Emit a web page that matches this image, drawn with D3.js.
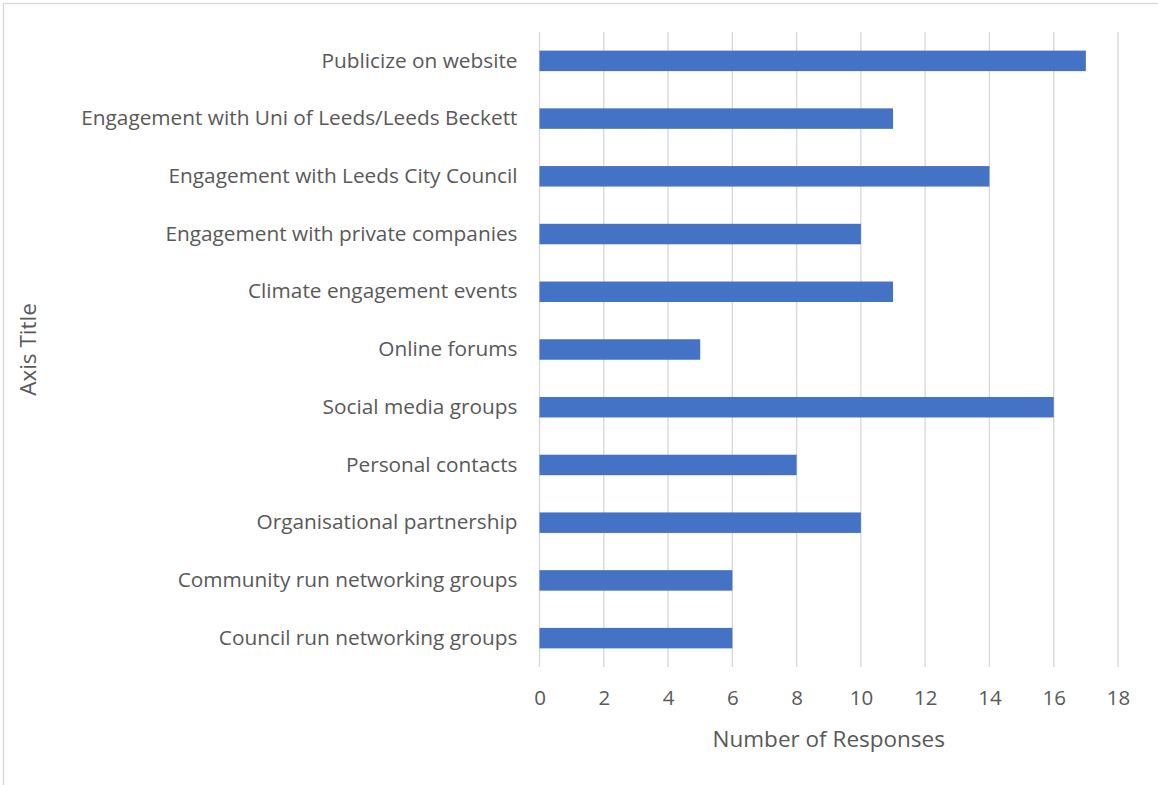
<!DOCTYPE html>
<html>
<head>
<meta charset="utf-8">
<script src="https://cdn.jsdelivr.net/npm/d3@7"></script>
<style>
  html, body { margin: 0; padding: 0; background: #fff; }
  svg { display: block; }
  text { font-family: "Open Sans", "Noto Sans", sans-serif; fill: #595959; }
</style>
</head>
<body>
<svg id="chart" width="1158" height="785"></svg>
<script>
// Ways respondents would like to connect (top to bottom as shown)
const categories = [
  "Publicize on website",
  "Engagement with Uni of Leeds/Leeds Beckett",
  "Engagement with Leeds City Council",
  "Engagement with private companies",
  "Climate engagement events ",
  "Online forums",
  "Social media groups",
  "Personal contacts",
  "Organisational partnership",
  "Community run networking groups",
  "Council run networking groups"
];
const responses = [17, 11, 14, 10, 11, 5, 16, 8, 10, 6, 6];
const xTicks = [0, 2, 4, 6, 8, 10, 12, 14, 16, 18];
const xTitle = "Number of Responses";
const yTitle = "Axis Title";

const svg = d3.select("#chart");
const W = 1158, H = 785;
const plot = { left: 539.5, right: 1118, top: 32, bottom: 667 };

// chart area outline
svg.append("rect")
  .attr("x", 3.5).attr("y", 3.5)
  .attr("width", W).attr("height", H)
  .attr("fill", "#fff")
  .attr("stroke", "#d9d9d9")
  .attr("stroke-width", 1.3);

const x = d3.scaleLinear().domain([0, 18]).range([plot.left, plot.right]);
const y = d3.scaleBand().domain(categories).range([plot.top, plot.bottom]).paddingInner(0.645).paddingOuter(0.3225);

// vertical gridlines
svg.append("g")
  .selectAll("line")
  .data(xTicks)
  .join("line")
  .attr("x1", d => x(d)).attr("x2", d => x(d))
  .attr("y1", plot.top).attr("y2", plot.bottom)
  .attr("stroke", "#d9d9d9")
  .attr("stroke-width", 1.4);

// bars
svg.append("g")
  .selectAll("rect")
  .data(categories)
  .join("rect")
  .attr("x", x(0))
  .attr("y", d => y(d))
  .attr("width", (d, i) => x(responses[i]) - x(0))
  .attr("height", y.bandwidth())
  .attr("fill", "#4472c4");

// x axis tick labels
const xAxis = d3.axisBottom(x).tickValues(xTicks).tickSize(0).tickPadding(0);
const gx = svg.append("g").attr("transform", `translate(0,${plot.bottom + 24})`).call(xAxis);
gx.select(".domain").remove();
gx.selectAll("text")
  .attr("font-size", 20.5)
  .attr("font-family", null)
  .attr("fill", "#595959")
  .attr("dy", "0.32em")
  .attr("y", 7);

// y axis category labels
const yAxis = d3.axisLeft(y).tickSize(0).tickPadding(0);
const gy = svg.append("g").attr("transform", `translate(${plot.left - 22},0)`).call(yAxis);
gy.select(".domain").remove();
gy.selectAll("text")
  .attr("font-size", 20.8)
  .attr("font-family", null)
  .attr("fill", "#595959");

// axis titles
svg.append("text")
  .attr("x", (plot.left + plot.right) / 2)
  .attr("y", 738)
  .attr("text-anchor", "middle")
  .attr("dominant-baseline", "central")
  .attr("font-size", 22.5)
  .text(xTitle);

svg.append("text")
  .attr("transform", `translate(27,${(plot.top + plot.bottom) / 2}) rotate(-90)`)
  .attr("text-anchor", "middle")
  .attr("dominant-baseline", "central")
  .attr("font-size", 22.5)
  .text(yTitle);
</script>
</body>
</html>
